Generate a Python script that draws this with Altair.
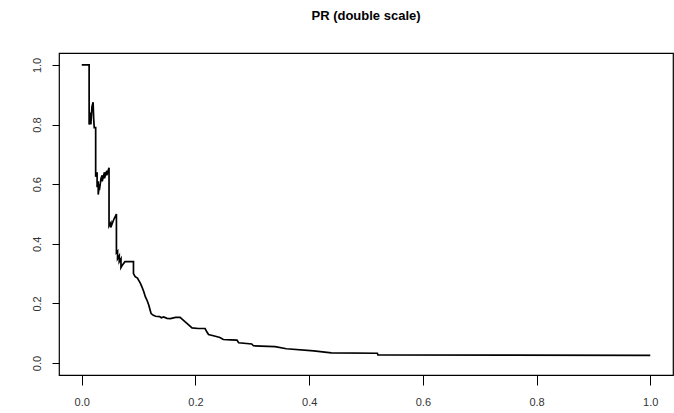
import altair as alt
import pandas as pd

recall = [0.000, 0.013, 0.013, 0.015, 0.016, 0.018, 0.020, 0.021, 0.022, 0.0245,
          0.0245, 0.027, 0.027, 0.029, 0.029, 0.031, 0.031, 0.034, 0.036, 0.036,
          0.040, 0.040, 0.044, 0.044, 0.048, 0.048, 0.051, 0.051, 0.056, 0.061,
          0.061, 0.063, 0.063, 0.066, 0.066, 0.069, 0.069, 0.072, 0.076, 0.091,
          0.091, 0.094, 0.098, 0.100, 0.103, 0.106, 0.109, 0.112, 0.115, 0.118,
          0.120, 0.122, 0.126, 0.130, 0.137, 0.140, 0.144, 0.150, 0.156, 0.165,
          0.173, 0.178, 0.182, 0.188, 0.194, 0.205, 0.217, 0.220, 0.223, 0.235,
          0.243, 0.249, 0.262, 0.273, 0.276, 0.299, 0.302, 0.340, 0.360, 0.408,
          0.439, 0.520, 0.521, 1.000]
precision = [1.000, 1.000, 0.800, 0.840, 0.800, 0.860, 0.875, 0.820, 0.790, 0.790,
             0.625, 0.640, 0.590, 0.610, 0.565, 0.600, 0.580, 0.620, 0.630, 0.610,
             0.640, 0.620, 0.645, 0.630, 0.655, 0.460, 0.470, 0.455, 0.480, 0.500,
             0.370, 0.375, 0.350, 0.360, 0.340, 0.350, 0.320, 0.330, 0.340, 0.340,
             0.300, 0.290, 0.285, 0.278, 0.268, 0.255, 0.240, 0.222, 0.210, 0.194,
             0.180, 0.166, 0.160, 0.157, 0.156, 0.152, 0.155, 0.150, 0.149, 0.153,
             0.153, 0.145, 0.138, 0.128, 0.118, 0.116, 0.116, 0.105, 0.096, 0.090,
             0.086, 0.079, 0.078, 0.077, 0.068, 0.064, 0.058, 0.055, 0.048, 0.041,
             0.034, 0.033, 0.027, 0.026]

x_ticks = [0.0, 0.2, 0.4, 0.6, 0.8, 1.0]
y_ticks = [0.0, 0.2, 0.4, 0.6, 0.8, 1.0]
title_text = "PR (double scale)"

df = pd.DataFrame({"recall": recall, "precision": precision, "idx": list(range(len(recall)))})

font = "Liberation Sans"

chart = alt.Chart(df).mark_line(color="black", strokeWidth=1.7).encode(
    x=alt.X("recall:Q",
            scale=alt.Scale(domain=[-0.04, 1.04], nice=False, zero=False),
            axis=alt.Axis(values=x_ticks, format=".1f", title=None, grid=False,
                          domain=False, tickSize=10, tickColor="black",
                          labelPadding=11, labelFontSize=11, labelFont=font,
                          labelColor="#333333", labelFlush=False)),
    y=alt.Y("precision:Q",
            scale=alt.Scale(domain=[-0.04, 1.04], nice=False, zero=False),
            axis=alt.Axis(values=y_ticks, format=".1f", title=None, grid=False,
                          domain=False, tickSize=7, tickColor="black",
                          labelAngle=270, labelAlign="center", labelBaseline="bottom",
                          labelPadding=10, labelFontSize=11, labelFont=font,
                          labelColor="#333333", labelFlush=False)),
    order="idx:Q",
).properties(
    width=614,
    height=322,
    title=alt.TitleParams(title_text, fontSize=13, fontWeight="bold", font=font,
                          anchor="middle", baseline="middle", offset=24, color="black"),
    padding={"left": 59, "top": 53, "right": 1, "bottom": 38},
    autosize="none",
).configure(
    background="white",
    view=alt.ViewConfig(stroke="black", strokeWidth=1.2),
)

chart.save("out.html", embed_options={"renderer": "svg", "actions": False})
